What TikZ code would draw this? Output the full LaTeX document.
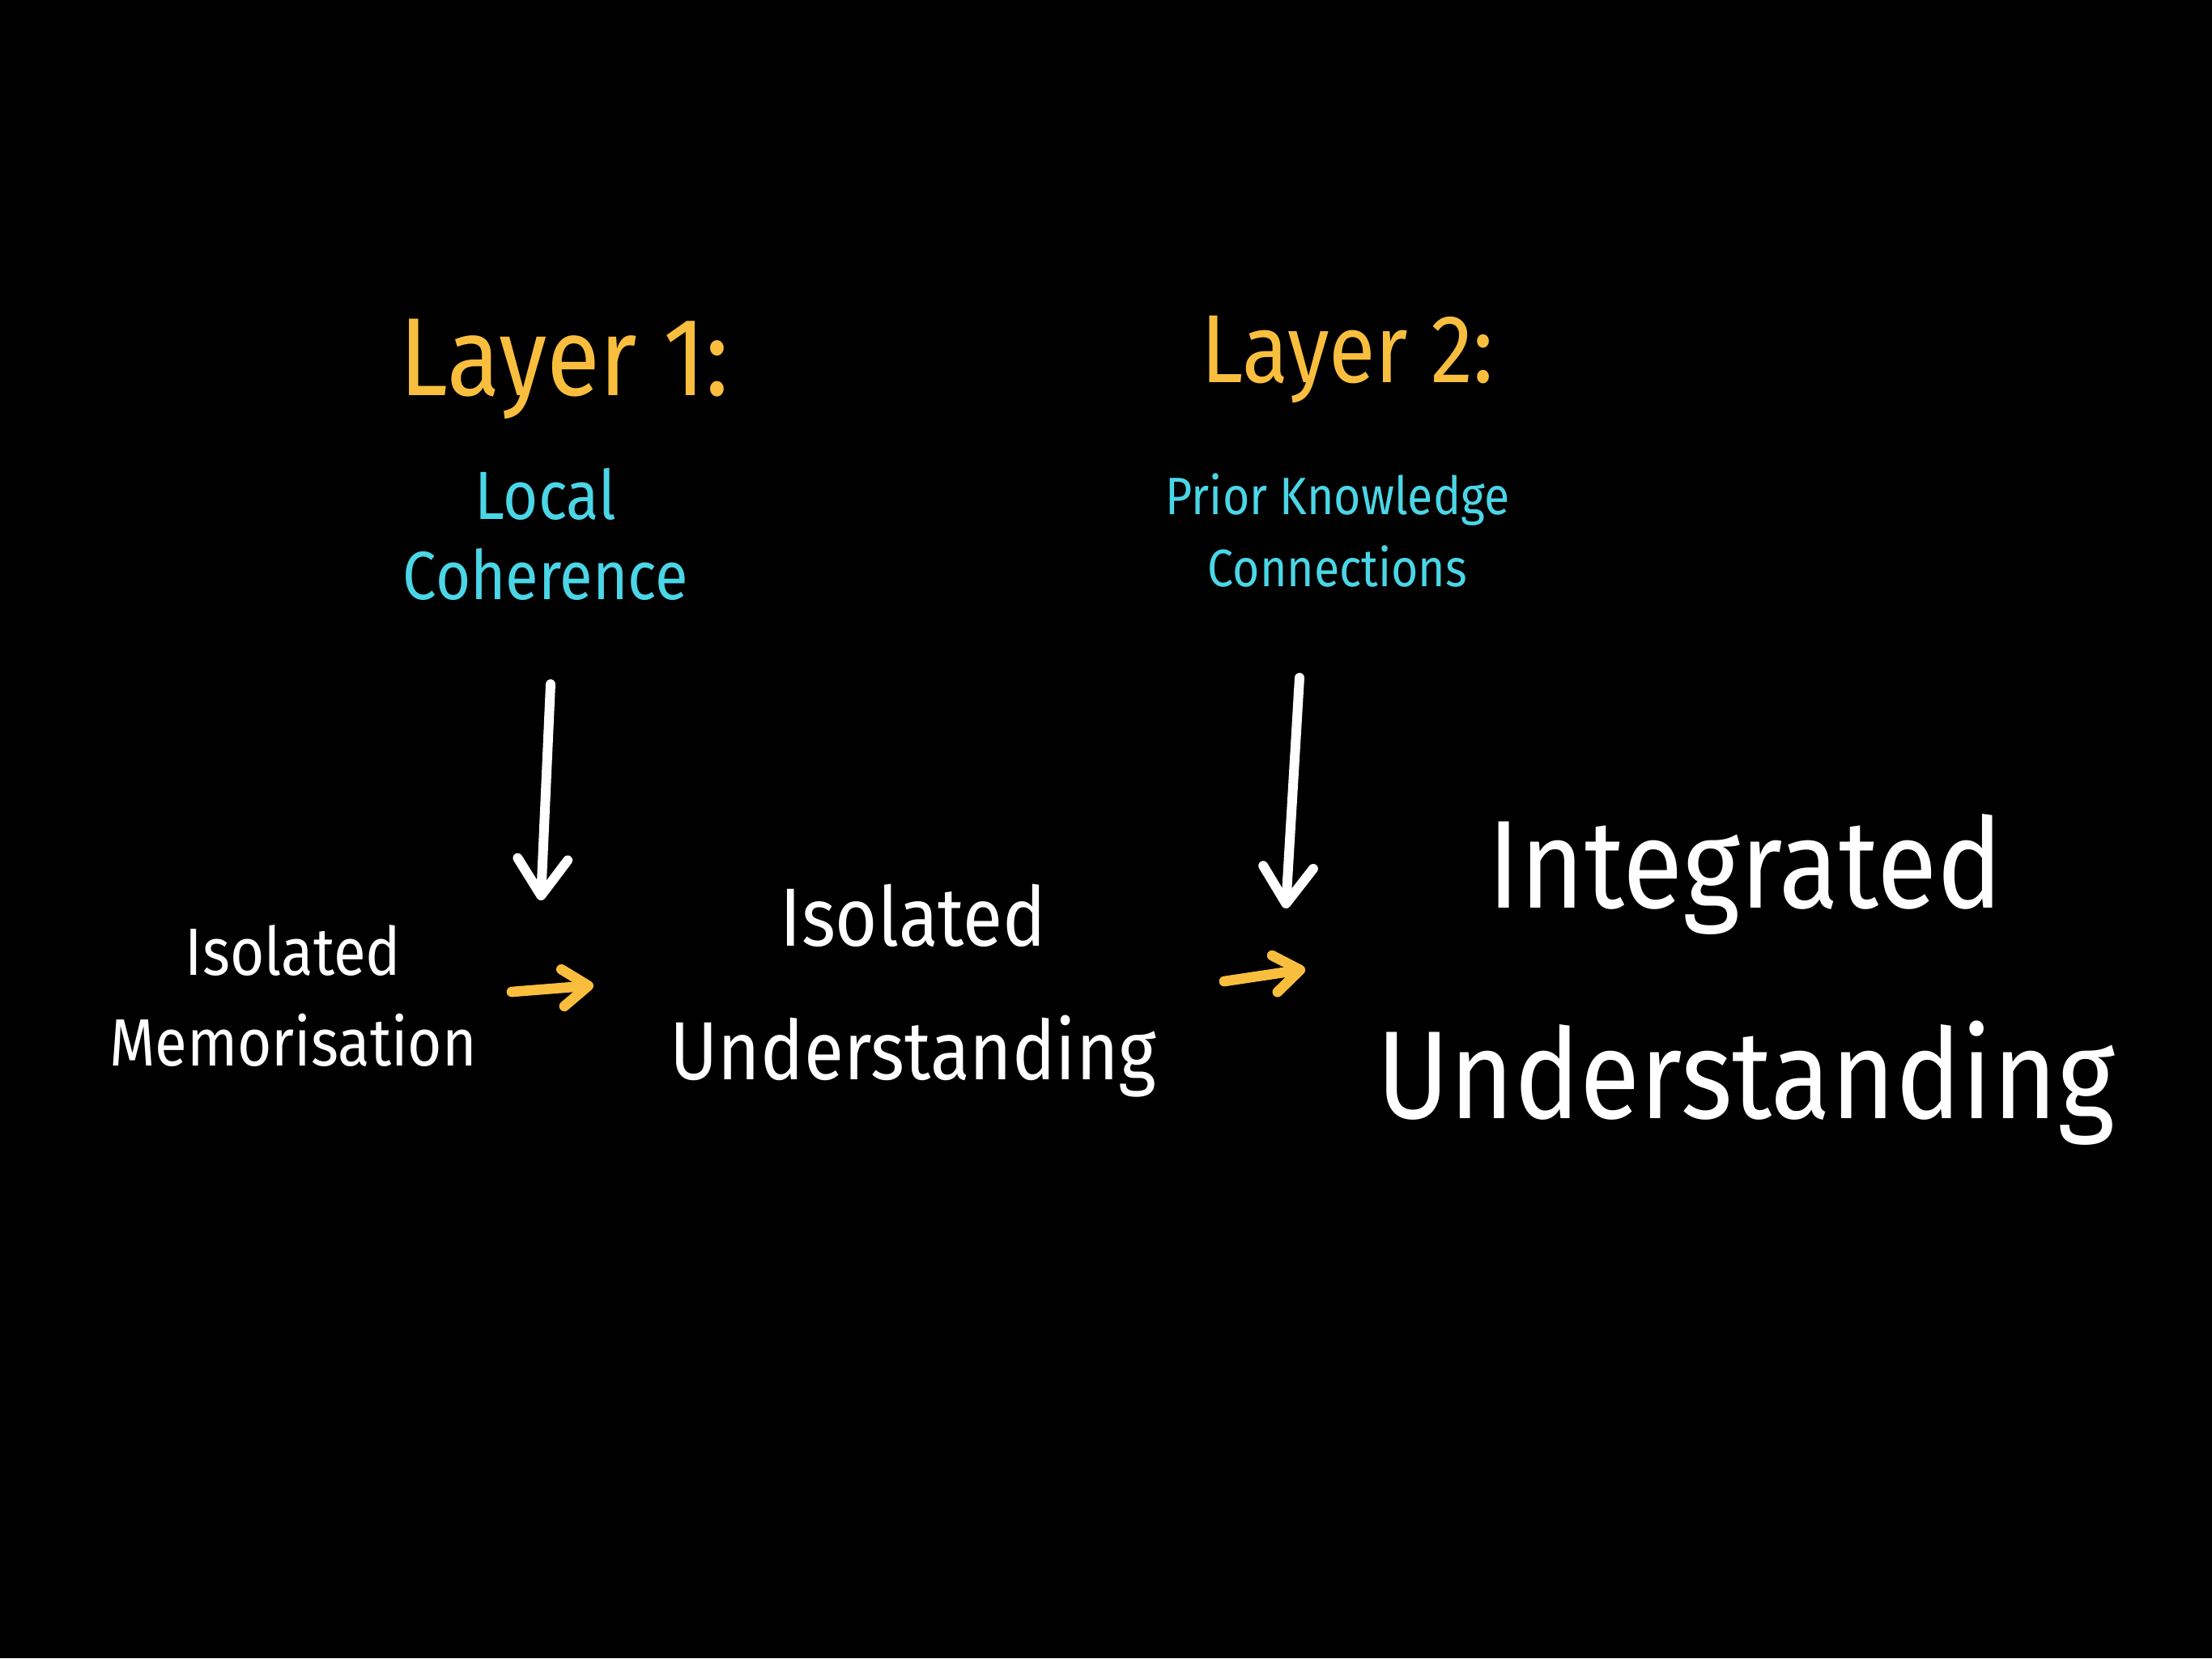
\documentclass[tikz,border=0pt]{standalone}
\usepackage{fontspec}
\setmainfont[FakeStretch=0.88]{Fira Sans}
\usepackage{tikz}
\usetikzlibrary{arrows.meta, positioning}

\definecolor{layerorange}{HTML}{F9BE3E}
\definecolor{layercyan}{HTML}{4AD6E6}

\begin{document}
\begin{tikzpicture}[
            title/.style={text=layerorange, inner sep=0pt},
            layer/.style={text=layercyan, align=center, inner sep=0pt},
            stage/.style={text=white, align=center, inner sep=0pt},
            downarrow/.style={draw=white, line width=3.4pt, line cap=round, line join=round,
                -{Straight Barb[length=12.8pt, width=17.6pt, line cap=round, line join=round]}},
            steparrow/.style={draw=layerorange, line width=3.6pt, line cap=round, line join=round,
                -{Straight Barb[length=9pt, width=13pt, line cap=round, line join=round]}}
            ]

            \useasboundingbox[fill=black] (0,0) rectangle (27.32,-20.48);

            % layer headings
            \node (layer1) [title, font=\fontsize{39}{44}\selectfont] at (6.97,-4.56) {Layer 1:};
            \node (layer2) [title, font=\fontsize{34}{40}\selectfont] at (16.64,-4.44) {Layer 2:};
            \node (coherence) [layer, font=\fontsize{24}{28}\selectfont] at (6.74,-6.60) {Local\\Coherence};
            \node (prior) [layer, font=\fontsize{18.5}{25.5}\selectfont] at (16.52,-6.55) {Prior Knowledge\\Connections};

            % stages of understanding
            \node (memorise) [stage, font=\fontsize{23.5}{32}\selectfont] at (3.62,-12.30) {Isolated\\Memorisation};
            \node (isolated) [stage, font=\fontsize{29}{47}\selectfont] at (11.28,-12.24) {Isolated\\Understanding};
            \node (integrated) [stage, font=\fontsize{44}{74}\selectfont] at (21.56,-12.10) {Integrated\\Understanding};

            % arrow ends
            \coordinate (c1top) at (6.80,-8.45);
            \coordinate (c1tip) at (6.68,-11.12);
            \coordinate (c2top) at (16.05,-8.37);
            \coordinate (c2tip) at (15.88,-11.22);
            \coordinate (s1from) at (6.32,-12.25);
            \coordinate (s1to) at (7.33,-12.17);
            \coordinate (s2from) at (15.12,-12.12);
            \coordinate (s2to) at (16.12,-11.97);

            \draw [downarrow] (c1top) -- (c1tip);
            \draw [downarrow] (c2top) -- (c2tip);
            \draw [steparrow] (s1from) -- (s1to);
            \draw [steparrow] (s2from) -- (s2to);
        \end{tikzpicture}
\end{document}
